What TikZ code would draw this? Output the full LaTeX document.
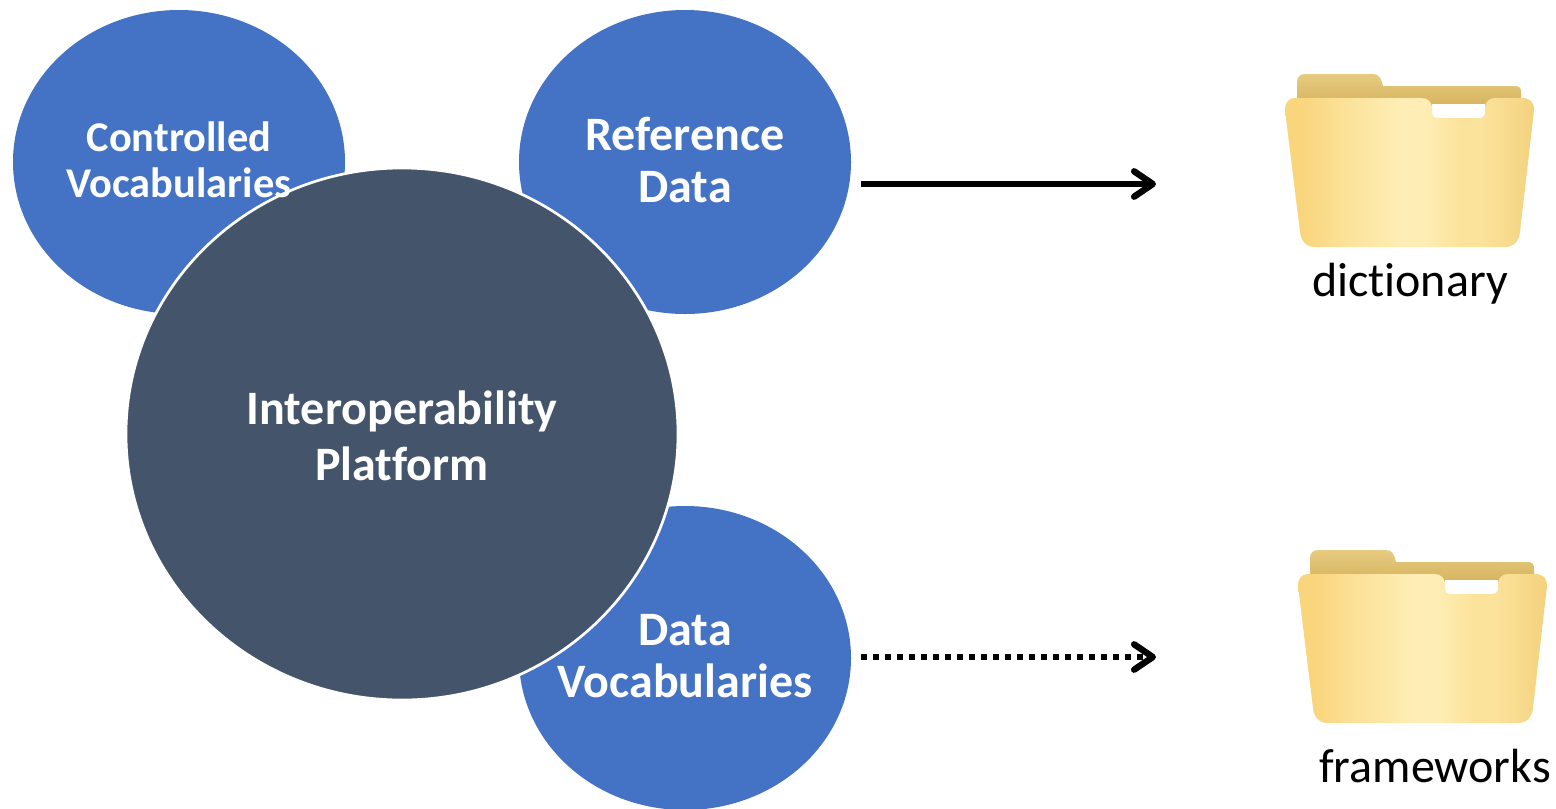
\documentclass[tikz,border=0pt]{standalone}
\usepackage{fontspec}
\setmainfont{Carlito}[Ligatures=NoCommon]
\usetikzlibrary{arrows.meta,shapes.geometric}

\definecolor{bubbleblue}{HTML}{4472C4}
\definecolor{platformslate}{HTML}{44546A}
\definecolor{folderedge}{HTML}{F9D57C}
\definecolor{foldermid}{HTML}{FCE39C}
\definecolor{folderlight}{HTML}{FEEDB4}
\definecolor{folderright}{HTML}{F3D27E}
\definecolor{foldertop}{HTML}{E6CB80}
\definecolor{folderback}{HTML}{D6B35F}
\pgfdeclarehorizontalshading{folderfront}{100bp}{
  color(0bp)=(folderedge); color(25bp)=(folderedge); color(28bp)=(folderedge); color(38bp)=(foldermid);
  color(48bp)=(folderlight); color(53bp)=(folderlight); color(60bp)=(foldermid);
  color(64bp)=(foldermid); color(75bp)=(folderright); color(100bp)=(folderright)}

\tikzset{
  bubble/.style={ellipse,fill=bubbleblue,minimum width=249pt,minimum height=228pt,inner sep=0},
  platform/.style={ellipse,fill=platformslate,draw=white,line width=2pt,minimum width=414pt,minimum height=399pt,inner sep=0},
  bubbletext/.style={text=white,font=\fontsize{36}{39}\selectfont\bfseries,align=center,inner sep=0},
  smalltext/.style={text=white,font=\fontsize{31.8}{34.5}\selectfont\bfseries,align=center,inner sep=0},
  platformtext/.style={text=white,font=\fontsize{36}{42}\selectfont\bfseries,align=center,inner sep=0},
  foldertext/.style={font=\fontsize{36}{40}\selectfont,inner sep=0},
  flow/.style={line width=4pt,-{Straight Barb[length=14pt,width=19pt,round,line width=4.8pt]}},
  folder/.pic={
    \begin{scope}[yscale=-1]
    %back of the folder
    \path[top color=foldertop,bottom color=folderback] (12,8) .. controls (12,3) and (15,0) .. (20,0) -- (88,0) .. controls (94,0) and (96,4) .. (98,12) -- (230,12) .. controls (234,12) and (236,14) .. (236,18) -- (236,32) -- (12,32) -- cycle;
    %white slot
    \path[fill=white] (147,30) -- (200,30) -- (200,38) .. controls (200,42) and (198,44) .. (194,44) -- (153,44) .. controls (149,44) and (147,42) .. (147,38) -- cycle;
    %front of the folder
    \path[shading=folderfront] (0,36) .. controls (0,28) and (4,24) .. (10,24) -- (136,24) .. controls (143,24) and (147,28) .. (147,34) -- (147,38) .. controls (147,42) and (149,44) .. (153,44) -- (194,44) .. controls (198,44) and (200,42) .. (200,38) -- (200,34) .. controls (200,28) and (204,24) .. (210,24) -- (237,24) .. controls (245,24) and (249,28) .. (249,36) -- (235,158) .. controls (234,167) and (229,173) .. (220,173) -- (30,173) .. controls (21,173) and (16,167) .. (15,158) -- cycle;
    \end{scope}
  }
}

\begin{document}
\begin{tikzpicture}[x=0.75pt,y=0.75pt,yscale=-1,xscale=1]
\useasboundingbox (0,0) rectangle (1556,808);

%bubbles
\node[bubble] (controlled) at (179,162) {};
\node[bubble] (reference) at (685,162) {};
\node[bubble] (datavocab) at (685,658) {};

%big circle
\node[platform] (platform) at (402,434) {};

\node[smalltext] (controlledtext) at (179,160) {Controlled\\Vocabularies};
\node[bubbletext] (referencetext) at (685,160) {Reference\\Data};
\node[bubbletext] (datavocabtext) at (685,656) {Data\\Vocabularies};
\node[platformtext] (platformtext) at (402,436) {Interoperability\\Platform};

%folders
\pic at (1285,74) {folder};
\pic at (1298,550) {folder};
\node[foldertext] (dictionary) at (1410,284) {dictionary};
\node[foldertext] (frameworks) at (1435,766) {frameworks};

%arrows
\coordinate (dictstart) at (861,184);
\coordinate (dictend) at (1156,184);
\coordinate (framestart) at (861,657);
\coordinate (frameend) at (1156,657);
\draw[flow] (dictstart) -- (dictend);
\draw[flow,dash pattern=on 4.5pt off 4.5pt] (framestart) -- (frameend);

\end{tikzpicture}
\end{document}
